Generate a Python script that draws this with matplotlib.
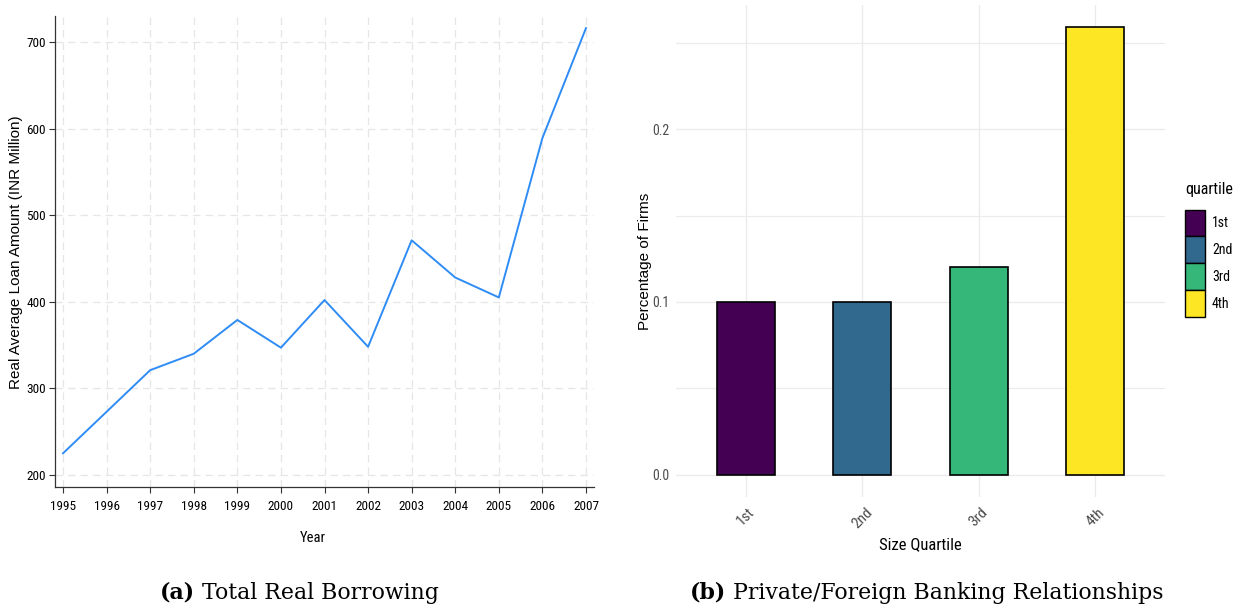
import matplotlib
matplotlib.use("Agg")
import matplotlib.pyplot as plt
from matplotlib import font_manager as fm
from matplotlib.patches import Patch

# yearly average real loan amount (INR million)
years = list(range(1995, 2008))
loan_amount = [225, 273, 321, 340, 379, 347, 402, 348, 471, 428, 405, 589, 716]

# share of firms with private/foreign bank relationships by size quartile
quartiles = ["1st", "2nd", "3rd", "4th"]
share_private = [0.100, 0.100, 0.120, 0.259]
quartile_colors = ["#440154", "#31688E", "#35B779", "#FDE725"]


def pick_narrow():
    for fam in ["Liberation Sans Narrow", "Arial Narrow", "Roboto Condensed"]:
        try:
            fm.findfont(fm.FontProperties(family=fam), fallback_to_default=False)
            return {"family": fam}, 1.0
        except ValueError:
            pass
    path = fm.findfont(fm.FontProperties(family="DejaVu Sans", stretch="condensed"))
    if "Condensed" in path:
        return {"family": "DejaVu Sans", "stretch": "condensed"}, 0.95
    return {"family": "Liberation Sans"}, 0.92


narrow, nscale = pick_narrow()
sans = "Liberation Sans"
serif = "DejaVu Serif"

fig = plt.figure(figsize=(12.33, 6.07), dpi=100)

# ---- (a) line chart
ax1 = fig.add_axes([55 / 1233, 1 - 487 / 607, 539 / 1233, 471 / 607])
ax1.plot(years, loan_amount, color="#2f8cf5", lw=1.4)
ax1.set_xlim(1994.816, 2007.184)
ax1.set_ylim(186.1, 730)
ax1.set_xticks(years)
ax1.set_yticks([200, 300, 400, 500, 600, 700])
ax1.grid(True, color="#e6e6e6", ls=(0, (6, 4)), lw=0.9)
ax1.set_axisbelow(True)
for s in ["top", "right"]:
    ax1.spines[s].set_visible(False)
for s in ["left", "bottom"]:
    ax1.spines[s].set_color("#333333")
    ax1.spines[s].set_linewidth(0.9)
ax1.tick_params(direction="out", length=4.5, width=0.8, color="#333333")
ax1.tick_params(axis="x", pad=5)
ax1.tick_params(axis="y", pad=2)
for lab in ax1.get_xticklabels() + ax1.get_yticklabels():
    lab.update(narrow)
    lab.set_fontsize(9.5 * nscale)
ax1.set_xlabel("Year", fontsize=10.5 * nscale, **narrow)
ax1.xaxis.set_label_coords((313 - 55) / 539, (487 - 538) / 471)
ax1.xaxis.label.set_va("center")
ax1.set_ylabel("Real Average Loan Amount (INR Million)", family=sans, fontsize=11)
ax1.yaxis.set_label_coords((16 - 55) / 539, (487 - 252) / 471)
ax1.yaxis.label.set_va("center")

# ---- (b) bar chart
ax2 = fig.add_axes([676 / 1233, 1 - 497 / 607, 489 / 1233, 492 / 607])
pos = range(1, len(quartiles) + 1)
ax2.bar(pos, share_private, width=0.5, color=quartile_colors, edgecolor="black", lw=1.2, zorder=3)
ax2.set_xlim(0.4, 4.6)
ax2.set_ylim(-0.0130, 0.2720)
ax2.set_xticks(list(pos))
ax2.set_xticklabels(quartiles, rotation=45, ha="center", va="top")
ax2.set_yticks([0.0, 0.1, 0.2])
ax2.set_yticklabels(["0.0", "0.1", "0.2"])
ax2.set_yticks([0.05, 0.15, 0.25], minor=True)
ax2.grid(True, which="major", color="#ebebeb", lw=1.0)
ax2.grid(True, which="minor", axis="y", color="#ebebeb", lw=0.8)
ax2.set_axisbelow(True)
for s in ax2.spines.values():
    s.set_visible(False)
ax2.tick_params(which="both", length=0, labelcolor="#4d4d4d")
ax2.tick_params(axis="x", pad=6)
ax2.tick_params(axis="y", pad=5)
for lab in ax2.get_xticklabels():
    lab.update(narrow)
    lab.set_fontsize(11 * nscale)
for lab in ax2.get_yticklabels():
    lab.update(narrow)
    lab.set_fontsize(10 * nscale)
ax2.set_xlabel("Size Quartile", fontsize=12 * nscale, **narrow)
ax2.xaxis.set_label_coords((920 - 676) / 489, (497 - 545) / 492)
ax2.xaxis.label.set_va("center")
ax2.set_ylabel("Percentage of Firms", family=sans, fontsize=11)
ax2.yaxis.set_label_coords((645 - 676) / 489, (497 - 261) / 492)
ax2.yaxis.label.set_va("center")

handles = [Patch(facecolor=c, edgecolor="black", lw=1.0, label=q)
           for q, c in zip(quartiles, quartile_colors)]
leg_prop = fm.FontProperties(size=10 * nscale, **narrow)
leg = fig.legend(handles=handles, title="quartile", loc="upper left",
                 bbox_to_anchor=(1185 / 1233, 1 - 182 / 607), frameon=False,
                 prop=leg_prop, handlelength=1.45, handleheight=2.6,
                 labelspacing=0.0, handletextpad=0.5, borderaxespad=0, borderpad=0)
leg.get_title().update(narrow)
leg.get_title().set_fontsize(11.5 * nscale)
leg._legend_box.align = "left"
leg._legend_box.sep = 9

# ---- captions
def caption(x, tag, rest):
    t = fig.text(x, 8 / 607, tag, family=serif, fontsize=15.8, weight="bold", va="baseline")
    ax1.annotate(" " + rest, xy=(1, 0), xycoords=t, family=serif, fontsize=15.8,
                 va="bottom", annotation_clip=False)
    return t

caption(160 / 1233, "(a)", "Total Real Borrowing")
caption(690 / 1233, "(b)", "Private/Foreign Banking Relationships")

fig.savefig("out.png", dpi=100)
